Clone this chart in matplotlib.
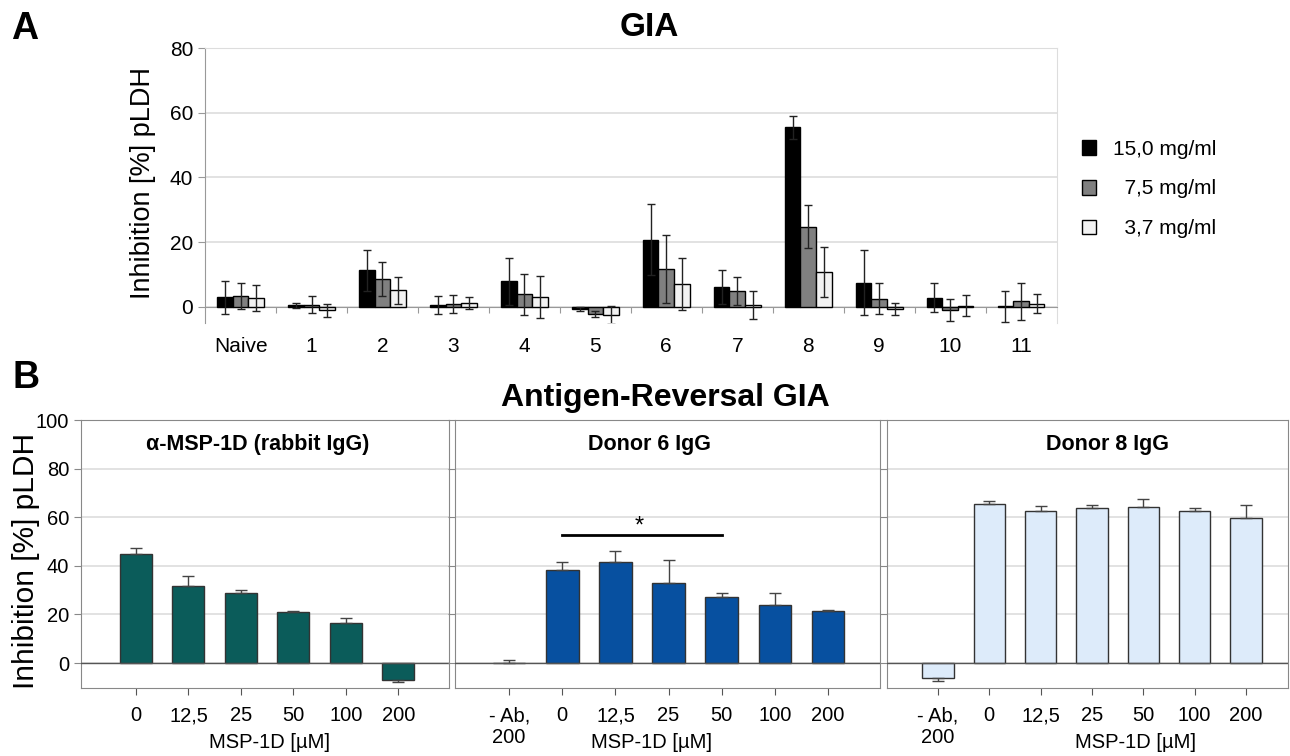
import numpy as np
import matplotlib
matplotlib.use("Agg")
import matplotlib.pyplot as plt

plt.rcParams['font.family'] = ['Liberation Sans', 'DejaVu Sans']

# panel A: GIA
gia_groups = ["Naive", "1", "2", "3", "4", "5", "6", "7", "8", "9", "10", "11"]
gia_labels = ["15,0 mg/ml", "  7,5 mg/ml", "  3,7 mg/ml"]
gia_15 = [2.9, 0.4, 11.3, 0.6, 7.9, -0.6, 20.8, 6.1, 55.5, 7.5, 2.8, 0.1]
gia_15_err = [5.0, 0.7, 6.4, 2.8, 7.2, 0.6, 11.0, 5.3, 3.5, 10.0, 4.4, 4.7]
gia_75 = [3.3, 0.6, 8.6, 0.9, 3.8, -2.2, 11.7, 4.9, 24.8, 2.5, -1.0, 1.7]
gia_75_err = [4.0, 2.6, 5.4, 2.8, 6.4, 0.9, 10.4, 4.4, 6.7, 4.7, 3.3, 5.8]
gia_37 = [2.8, -1.1, 5.1, 1.2, 2.9, -2.5, 7.1, 0.5, 10.7, -0.6, 0.3, 0.9]
gia_37_err = [4.0, 2.0, 4.2, 1.9, 6.5, 2.8, 8.0, 4.3, 7.8, 1.9, 3.3, 2.9]

# panel B: antigen reversal GIA
conc_rabbit = ["0", "12,5", "25", "50", "100", "200"]
conc_donor = ["- Ab,\n200", "0", "12,5", "25", "50", "100", "200"]
rabbit_vals = [44.8, 31.8, 29.0, 21.1, 16.4, -7.1]
rabbit_err = [2.7, 4.1, 1.1, 0.2, 2.0, 0.8]
donor6_vals = [0.0, 38.2, 41.6, 33.0, 27.1, 24.0, 21.4]
donor6_err = [1.2, 3.2, 4.6, 9.6, 1.8, 4.9, 0.3]
donor8_vals = [-6.2, 65.3, 62.6, 64.0, 64.4, 62.6, 59.7]
donor8_err = [1.2, 1.4, 1.9, 1.1, 3.0, 1.1, 5.5]

fig = plt.figure(figsize=(12.9, 7.56), dpi=100)

# ---- A ----
ax = fig.add_axes([0.159, 0.5728, 0.660, 0.3637])
x = np.arange(len(gia_groups))
w = 0.22
series = [(gia_15, gia_15_err, "#000000"), (gia_75, gia_75_err, "#808080"),
          (gia_37, gia_37_err, "#f2f2f2")]
handles = []
for i, (vals, err, col) in enumerate(series):
    b = ax.bar(x + (i - 1) * w, vals, w, color=col, edgecolor="black", linewidth=1,
               yerr=err, capsize=3, error_kw=dict(ecolor="#222222", elinewidth=1, capthick=1),
               zorder=3)
    handles.append(b)
ax.set_xlim(-0.5, 11.5)
ax.set_ylim(-5, 80)
ax.set_yticks([0, 20, 40, 60, 80])
ax.yaxis.grid(True, color="#dddddd", linewidth=1.2)
ax.set_axisbelow(True)
ax.spines["bottom"].set_position(("data", 0))
ax.spines["bottom"].set_color("#999999")
ax.spines["left"].set_color("#999999")
ax.spines["right"].set_color("#dddddd")
ax.spines["top"].set_color("#dddddd")
ax.set_xticks(x[:-1] + 0.5)
ax.set_xticklabels([])
ax.set_xticks(x, minor=True)
ax.set_xticklabels(gia_groups, minor=True)
ax.tick_params(axis="x", which="major", length=4, color="#999999", direction="out")
ax.tick_params(axis="x", which="minor", length=0, pad=22, labelsize=15)
ax.tick_params(axis="y", length=5, color="#999999", labelsize=15)
fig.text(0.111, 0.758, "Inhibition [%] pLDH", fontsize=19.5, rotation=90,
         ha="center", va="center")
fig.legend(handles, gia_labels, loc="center left", bbox_to_anchor=(0.824, 0.75),
           frameon=False, fontsize=15, handlelength=0.7, handleheight=0.7,
           labelspacing=1.0, handletextpad=0.8)
fig.text(0.503, 0.963, "GIA", fontsize=24, fontweight="bold", ha="center", va="center")
fig.text(0.019, 0.962, "A", fontsize=27, fontweight="bold", ha="center", va="center")
fig.text(0.020, 0.500, "B", fontsize=27, fontweight="bold", ha="center", va="center")

# ---- B ----
def one_sided(vals, err):
    vals = np.array(vals)
    err = np.array(err)
    lo = np.where(vals < 0, err, 0)
    hi = np.where(vals >= 0, err, 0)
    return [lo, hi]

panels = [
    ([0.0628, 0.0899, 0.2853, 0.3545], conc_rabbit, rabbit_vals, rabbit_err, "#0b5c5a",
     "α-MSP-1D (rabbit IgG)", (-1.05, 5.97), 0.48),
    ([0.3527, 0.0899, 0.3295, 0.3545], conc_donor, donor6_vals, donor6_err, "#0750a0",
     "Donor 6 IgG", (-1.02, 6.98), 0.457),
    ([0.6876, 0.0899, 0.3109, 0.3545], conc_donor, donor8_vals, donor8_err, "#ddebfa",
     "Donor 8 IgG", (-0.99, 6.82), 0.55),
]
axes_b = []
for k, (rect, cats, vals, err, col, title, xl, tx) in enumerate(panels):
    axb = fig.add_axes(rect)
    pos = np.arange(len(cats))
    axb.bar(pos, vals, 0.61, color=col, edgecolor="#333333", linewidth=1,
            yerr=one_sided(vals, err), capsize=4,
            error_kw=dict(ecolor="#444444", elinewidth=1, capthick=1), zorder=3)
    axb.axhline(0, color="#555555", linewidth=1, zorder=4)
    axb.set_xlim(*xl)
    axb.set_ylim(-10.3, 100)
    axb.set_yticks([0, 20, 40, 60, 80, 100])
    axb.yaxis.grid(True, color="#dddddd", linewidth=1.2)
    axb.set_axisbelow(True)
    for s in axb.spines.values():
        s.set_color("#888888")
    axb.set_xticks(pos)
    axb.set_xticklabels(cats)
    axb.tick_params(axis="x", length=5, color="#555555", labelsize=14.5, pad=8)
    axb.tick_params(axis="y", length=5, color="#888888", labelsize=14.5)
    if k > 0:
        axb.set_yticklabels([])
    axb.text(tx, 0.91, title, transform=axb.transAxes, ha="center", va="center",
             fontsize=15.5, fontweight="bold")
    axes_b.append(axb)

fig.text(0.020, 0.258, "Inhibition [%] pLDH", fontsize=21.5, rotation=90,
         ha="center", va="center")
# significance bar, donor 6
axes_b[1].plot([1, 4], [52.6, 52.6], color="black", linewidth=2)
axes_b[1].text(2.45, 51.5, "*", ha="center", va="bottom", fontsize=17)

fig.text(0.209, 0.018, "MSP-1D [µM]", fontsize=14.5, ha="center", va="center")
fig.text(0.505, 0.018, "MSP-1D [µM]", fontsize=14.5, ha="center", va="center")
fig.text(0.880, 0.018, "MSP-1D [µM]", fontsize=14.5, ha="center", va="center")
fig.text(0.516, 0.473, "Antigen-Reversal GIA", fontsize=23, fontweight="bold",
         ha="center", va="center")

fig.savefig("out.png", dpi=100)
